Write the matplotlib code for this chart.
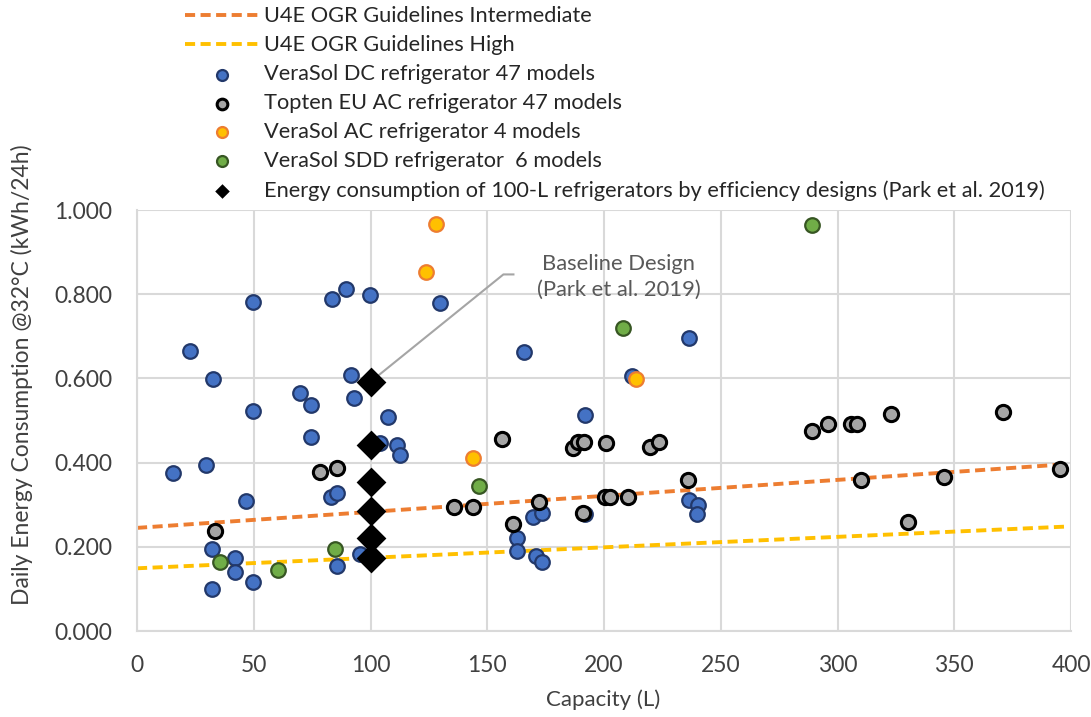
import matplotlib.pyplot as plt
import numpy as np
from matplotlib.ticker import FuncFormatter

plt.rcParams['font.family'] = ['Lato', 'DejaVu Sans']

# capacity (L) vs daily energy use (kWh/24h)
dc_cap = [15.4, 22.8, 29.7, 32.5, 32.1, 32.1, 41.8, 41.8, 46.7, 49.5, 49.5, 49.5,
          69.7, 74.7, 74.7, 83.2, 85.7, 83.5, 85.7, 89.5, 91.8, 92.9, 95.4, 99.9,
          104.2, 107.6, 111.5, 112.6, 129.8, 162.6, 162.6, 165.9, 169.4, 173.3,
          170.7, 173.3, 191.9, 191.8, 211.8, 236.5, 236.5, 240.4, 240.0]
dc_kwh = [0.376, 0.665, 0.394, 0.598, 0.196, 0.101, 0.173, 0.141, 0.309, 0.781, 0.523, 0.117,
          0.565, 0.538, 0.461, 0.319, 0.329, 0.788, 0.154, 0.812, 0.608, 0.553, 0.182, 0.799,
          0.446, 0.509, 0.442, 0.418, 0.778, 0.222, 0.190, 0.662, 0.271, 0.281,
          0.179, 0.163, 0.512, 0.279, 0.606, 0.695, 0.311, 0.299, 0.278]

topten_cap = [33.5, 78.5, 85.7, 135.8, 144.0, 156.2, 160.9, 172.0, 186.6, 189.0, 191.4,
              191.1, 200.9, 200.6, 202.6, 210.4, 219.7, 223.7, 236.1, 288.9, 295.8,
              305.8, 308.2, 310.1, 322.8, 330.1, 345.7, 371.0, 395.3]
topten_kwh = [0.238, 0.377, 0.388, 0.294, 0.294, 0.455, 0.254, 0.307, 0.434, 0.450, 0.450,
              0.281, 0.446, 0.318, 0.318, 0.318, 0.438, 0.450, 0.359, 0.476, 0.492,
              0.492, 0.492, 0.358, 0.515, 0.260, 0.367, 0.521, 0.384]

ac_cap = [123.6, 128.1, 144.0, 213.6]
ac_kwh = [0.852, 0.967, 0.412, 0.599]

sdd_cap = [35.7, 60.5, 84.7, 146.6, 208.3, 288.9]
sdd_kwh = [0.165, 0.145, 0.196, 0.345, 0.720, 0.964]

# Park et al. 2019 designs for a 100-L unit, baseline first
park_cap = [100, 100, 100, 100, 100, 100]
park_kwh = [0.592, 0.443, 0.355, 0.286, 0.220, 0.173]

# U4E guideline lines: kWh = a + b * capacity
guide_cap = [0, 397]
inter_a, inter_b = 0.245, 0.00038
high_a, high_b = 0.149, 0.000249

fig = plt.figure(figsize=(10.91, 7.17), dpi=100)
ax = fig.add_axes([0.1256, 0.1199, 0.8561, 0.5872])

gc = np.array(guide_cap)
ax.plot(gc, inter_a + inter_b * gc, color='#ED7D31', lw=2.8, dashes=(2.6, 1.4),
        label='U4E OGR Guidelines Intermediate', zorder=2)
ax.plot(gc, high_a + high_b * gc, color='#FFC000', lw=2.8, dashes=(2.6, 1.4),
        label='U4E OGR Guidelines High', zorder=2)

ax.scatter(dc_cap, dc_kwh, s=110, c='#4472C4', edgecolors='#22386A', linewidths=1.6,
           label='VeraSol DC refrigerator 47 models', zorder=3)
ax.scatter(topten_cap, topten_kwh, s=105, c='#A5A5A5', edgecolors='#000000', linewidths=2.2,
           label='Topten EU AC refrigerator 47 models', zorder=4)
ax.scatter(ac_cap, ac_kwh, s=110, c='#FFC000', edgecolors='#ED7D31', linewidths=1.6,
           label='VeraSol AC refrigerator 4 models', zorder=5)
ax.scatter(sdd_cap, sdd_kwh, s=110, c='#70AD47', edgecolors='#375623', linewidths=1.6,
           label='VeraSol SDD refrigerator  6 models', zorder=6)
ax.scatter(park_cap, park_kwh, s=230, marker='D', c='#000000', linewidths=0,
           label='Energy consumption of 100-L refrigerators by efficiency designs (Park et al. 2019)',
           zorder=7)

# callout for the baseline design
ax.plot([park_cap[0], 156.9, 161.2], [park_kwh[0], 0.847, 0.847], color='#A5A5A5', lw=1.5, zorder=6)
ax.text(206.4, 0.841, 'Baseline Design\n(Park et al. 2019)', ha='center', va='center',
        fontsize=15.8, color='#595959', linespacing=1.4)

ax.set_xlim(0, 400)
ax.set_ylim(0, 1.0)
ax.set_xticks(np.arange(0, 401, 50))
ax.set_yticks(np.arange(0, 1.01, 0.2))
ax.yaxis.set_major_formatter(FuncFormatter(lambda v, _: f'{v:.3f}'))
ax.grid(True, color='#D9D9D9', lw=1.5, zorder=0)
ax.set_axisbelow(True)
for side in ['top', 'right']:
    ax.spines[side].set_visible(False)
for side in ['left', 'bottom']:
    ax.spines[side].set_color('#D9D9D9')
    ax.spines[side].set_linewidth(1.5)
ax.tick_params(length=0, labelsize=16.5, labelcolor='#404040')
ax.tick_params(axis='x', pad=17)
ax.tick_params(axis='y', pad=18)

ax.set_xlabel('Capacity (L)', fontsize=16, color='#404040')
ax.set_ylabel('Daily Energy Consumption @32°C (kWh/24h)', fontsize=16.5, color='#404040')
ax.xaxis.set_label_coords(0.499, -0.138)
ax.yaxis.set_label_coords(-0.111, 0.608)

leg = fig.legend(loc='upper left', bbox_to_anchor=(0.1696, 0.991), frameon=False, fontsize=15.7,
                 borderpad=0, borderaxespad=0, handlelength=3.4, handletextpad=0.2,
                 labelspacing=0.41, markerscale=0.75, scatterpoints=1, labelcolor='#262626')
# smaller diamond in the key
leg.legend_handles[-1].set_sizes([55])

fig.savefig('out.png', dpi=100)
